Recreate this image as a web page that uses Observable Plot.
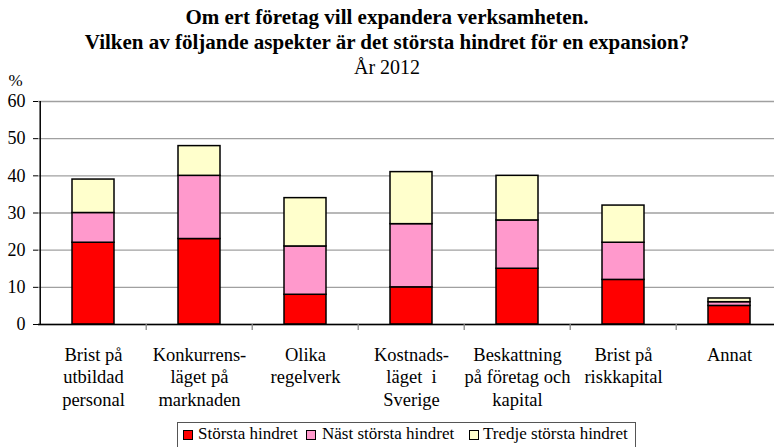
<!DOCTYPE html>
<html>
<head>
<meta charset="utf-8">
<script src="https://cdn.jsdelivr.net/npm/d3@7"></script>
<script src="https://cdn.jsdelivr.net/npm/@observablehq/plot@0.6"></script>
<style>
  html, body { margin: 0; padding: 0; background: #fff; }
  body { width: 774px; height: 447px; overflow: hidden; position: relative; font-family: "Liberation Serif", serif; color: #000; }
  #title { box-sizing: border-box; height: 75px; padding-top: 5px; text-align: center; line-height: 25px; }
  #title .b { font-weight: bold; font-size: 21px; }
  #title .r { font-size: 20px; }
  #chart svg { display: block; }
  #legend { position: absolute; left: 177px; top: 422px; width: 459px; height: 32px; box-sizing: border-box; border: 1px solid #555; font-size: 17px; }
  #legend .sw { position: absolute; top: 7px; width: 8px; height: 8px; border: 1.5px solid #000; }
  #legend .tx { position: absolute; top: 1px; line-height: 20px; white-space: nowrap; }
</style>
</head>
<body>
<div id="title">
  <div class="b">Om ert företag vill expandera verksamheten.</div>
  <div class="b">Vilken av följande aspekter är det största hindret för en expansion?</div>
  <div class="r">År 2012</div>
</div>
<div id="chart"></div>
<div id="legend"></div>
<script>
const categories = [
  "Brist på\nutbildad\npersonal",
  "Konkurrens-\nläget på\nmarknaden",
  "Olika\nregelverk",
  "Kostnads-\nläget  i\nSverige",
  "Beskattning\npå företag och\nkapital",
  "Brist på\nriskkapital",
  "Annat"
];
const series = ["Största hindret", "Näst största hindret", "Tredje största hindret"];
const storstaHindret = [22, 23, 8, 10, 15, 12, 5];
const nastStorstaHindret = [8, 17, 13, 17, 13, 10, 1];
const tredjeStorstaHindret = [9, 8, 13, 14, 12, 10, 1];
const yTicks = [0, 10, 20, 30, 40, 50, 60];
const colors = ["#ff0000", "#ff99cc", "#ffffcc"];

const seriesValues = [storstaHindret, nastStorstaHindret, tredjeStorstaHindret];
const data = [];
categories.forEach((c, i) => {
  series.forEach((s, j) => data.push({cat: c, series: s, value: seriesValues[j][i]}));
});

const step = (784 - 38) / categories.length;
const font = '"Liberation Serif", serif';

const chart = Plot.plot({
  width: 774,
  height: 345,
  marginLeft: 38,
  marginRight: 0,
  marginTop: 26,
  marginBottom: 96,
  style: {fontFamily: font, fontSize: "18px", color: "#000", background: "transparent", overflow: "visible"},
  x: {domain: categories, range: [38, 784], paddingInner: 0.6, paddingOuter: 0.3, axis: null, label: null},
  y: {domain: [0, 60], axis: null, label: null},
  color: {domain: series, range: colors},
  marks: [
    Plot.gridY(yTicks, {stroke: "#a0a0a0", strokeOpacity: 1, strokeWidth: 1.3}),
    Plot.barY(data, {x: "cat", y: "value", fill: "series", stroke: "#000", strokeWidth: 1.5}),
    Plot.ruleY([0], {stroke: "#000", strokeWidth: 1.5}),
    Plot.ruleX([categories[0]], {dx: -step / 2, y1: 0, y2: 60, stroke: "#000", strokeWidth: 1.5}),
    Plot.axisY({ticks: yTicks, tickSize: 5, tickPadding: 8, fontSize: 18, label: null, stroke: "#000"}),
    Plot.axisX({ticks: categories.slice(1), tickSize: 6, dx: -step / 2, text: null, label: null, stroke: "#888", strokeWidth: 1.3}),
    Plot.axisX({tickSize: 0, tickPadding: 21, fontSize: 18.5, lineHeight: 1.2, label: null}),
    Plot.text(["%"], {frameAnchor: "top-left", lineAnchor: "middle", dx: -30, dy: -21, fontSize: 17})
  ]
});
document.getElementById("chart").appendChild(chart);

const legend = document.getElementById("legend");
const swLeft = [5, 128, 291];
const txLeft = [20, 144, 305];
series.forEach((s, j) => {
  const sw = document.createElement("div");
  sw.className = "sw";
  sw.style.left = swLeft[j] + "px";
  sw.style.background = colors[j];
  const t = document.createElement("div");
  t.className = "tx";
  t.style.left = txLeft[j] + "px";
  t.textContent = s;
  legend.appendChild(sw);
  legend.appendChild(t);
});
</script>
</body>
</html>
